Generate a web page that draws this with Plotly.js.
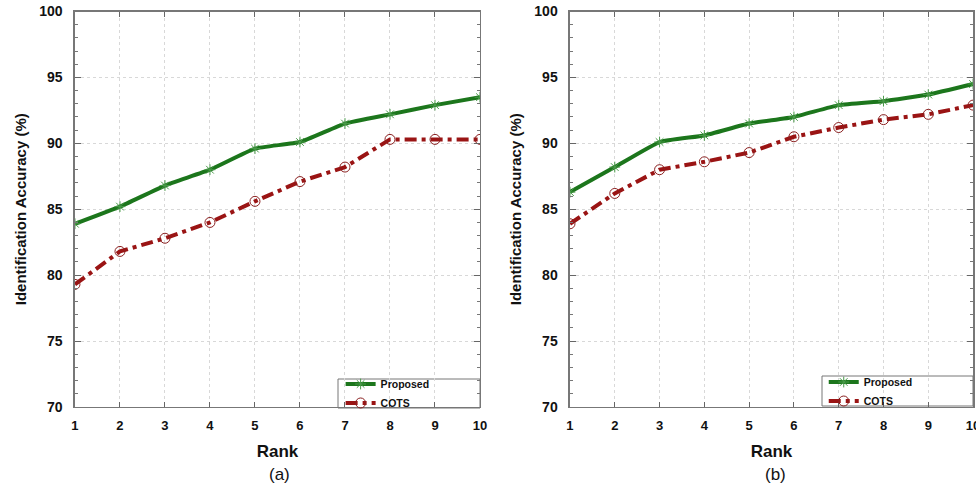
<!DOCTYPE html>
<html><head><meta charset="utf-8">
<script src="https://cdn.plot.ly/plotly-3.0.1.min.js"></script>
<style>html,body{margin:0;padding:0;background:#fff}#chart{width:976px;height:490px}</style>
</head><body><div id="chart"></div>
<script>
const ranks = [1,2,3,4,5,6,7,8,9,10];
const proposedA = [83.9, 85.2, 86.8, 88.0, 89.6, 90.1, 91.5, 92.2, 92.9, 93.5];
const cotsA     = [79.3, 81.8, 82.8, 84.0, 85.6, 87.1, 88.2, 90.3, 90.3, 90.3];
const proposedB = [86.3, 88.2, 90.1, 90.6, 91.5, 92.0, 92.9, 93.2, 93.7, 94.5];
const cotsB     = [83.9, 86.2, 88.0, 88.6, 89.3, 90.5, 91.2, 91.8, 92.2, 92.9];
const seriesNames = ['Proposed', 'COTS'];
const panelLabels = ['(a)', '(b)'];
const yTitle = 'Identification Accuracy (%)';
const xTitle = 'Rank';

const GREEN = '#1c761c', RED = '#9a1414';
function propTrace(y, xa, ya, lg){
  return {x: ranks, y: y, xaxis: xa, yaxis: ya, legend: lg, name: seriesNames[0], mode: 'lines+markers',
    line: {color: GREEN, width: 4, shape: 'spline', smoothing: 0.4},
    marker: {symbol: 'asterisk-open', size: 9, color: '#4a9a4a', line: {color: '#4a9a4a', width: 1}}};
}
function cotsTrace(y, xa, ya, lg){
  return {x: ranks, y: y, xaxis: xa, yaxis: ya, legend: lg, name: seriesNames[1], mode: 'lines+markers',
    line: {color: RED, width: 4, dash: '12px,5px,4px,5px'},
    marker: {symbol: 'circle-open', size: 10, color: '#8a2020', line: {color: '#8a2020', width: 1}}};
}
const data = [
  propTrace(proposedA, 'x', 'y', 'legend'), cotsTrace(cotsA, 'x', 'y', 'legend'),
  propTrace(proposedB, 'x2', 'y2', 'legend2'), cotsTrace(cotsB, 'x2', 'y2', 'legend2')
];
const F = 'Liberation Sans, Arial, sans-serif';
function xax(dom){
  return {domain: dom, range: [1,10], tickvals: ranks, ticktext: ranks.map(String), ticks: 'inside', ticklen: 5,
    tickcolor: '#666', showline: true, linecolor: '#777', linewidth: 1.5, mirror: 'ticks',
    showgrid: true, gridcolor: '#d8d8d8', griddash: 'dot', gridwidth: 1, zeroline: false,
    tickfont: {family: F, size: 13, color: '#111', weight: 'bold'}, ticklabelstandoff: 6,
    ticklabeloverflow: 'allow',
    title: {text: '<b>' + xTitle + '</b>', font: {family: F, size: 17, color: '#111'}, standoff: 13},
    automargin: false, fixedrange: true};
}
function yax(anchor){
  return {domain: [0.1694, 0.9765], anchor: anchor, range: [70,100], dtick: 5, ticks: 'inside', ticklen: 6,
    tickcolor: '#666', showline: true, linecolor: '#777', linewidth: 1.5, mirror: 'ticks',
    minor: {dtick: 1, ticks: 'inside', ticklen: 3, tickcolor: '#777', showgrid: false},
    showgrid: true, gridcolor: '#d8d8d8', griddash: 'dot', gridwidth: 1, zeroline: false,
    tickfont: {family: F, size: 14, color: '#111', weight: 'bold'}, ticklabelstandoff: 8,
    title: {text: '<b>' + yTitle + '</b>', font: {family: F, size: 15, color: '#111'}, standoff: 9},
    automargin: false, fixedrange: true};
}
const legFont = {family: F, size: 10.5, color: '#111', weight: 'bold'};
const layout = {
  width: 976, height: 490, margin: {l: 0, r: 0, t: 0, b: 0},
  paper_bgcolor: '#fff', plot_bgcolor: '#fff', showlegend: true,
  xaxis: Object.assign(xax([0.0768, 0.4918]), {anchor: 'y'}),
  yaxis: yax('x'),
  xaxis2: Object.assign(xax([0.584, 0.997]), {anchor: 'y2'}),
  yaxis2: yax('x2'),
  legend: {x: 0.349, xanchor: 'left', y: 0.148, yanchor: 'bottom', bgcolor: 'rgba(0,0,0,0)', borderwidth: 0,
    font: legFont, itemwidth: 30, tracegroupgap: 0, itemclick: false},
  legend2: {x: 0.844, xanchor: 'left', y: 0.152, yanchor: 'bottom', bgcolor: 'rgba(0,0,0,0)', borderwidth: 0,
    font: legFont, itemwidth: 30, tracegroupgap: 0, itemclick: false},
  shapes: [
    {type: 'rect', xref: 'paper', yref: 'paper', x0: 338/976, x1: 480/976, y0: 1-408/490, y1: 1-379/490,
      line: {color: '#777', width: 1}, fillcolor: '#fff', layer: 'below'},
    {type: 'rect', xref: 'paper', yref: 'paper', x0: 822/976, x1: 973/976, y0: 1-406/490, y1: 1-376/490,
      line: {color: '#777', width: 1}, fillcolor: '#fff', layer: 'below'}
  ],
  annotations: [
    {text: panelLabels[0], xref: 'paper', yref: 'paper', x: 279/976, y: 1-474/490, xanchor: 'center', yanchor: 'middle', showarrow: false,
      font: {family: F, size: 17, color: '#111'}},
    {text: panelLabels[1], xref: 'paper', yref: 'paper', x: 775/976, y: 1-474/490, xanchor: 'center', yanchor: 'middle', showarrow: false,
      font: {family: F, size: 17, color: '#111'}}
  ]
};
Plotly.newPlot('chart', data, layout, {staticPlot: true, displayModeBar: false});
</script></body></html>
